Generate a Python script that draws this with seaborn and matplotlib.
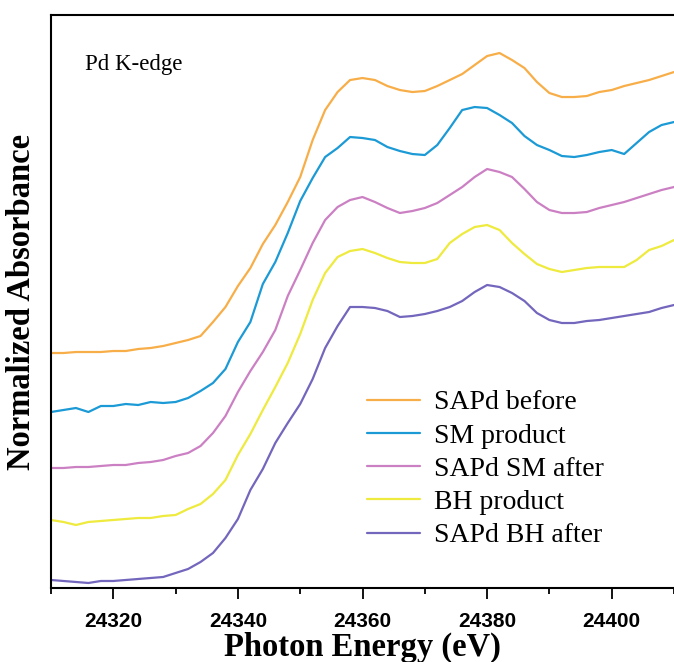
import numpy as np
import pandas as pd
import seaborn as sns
import matplotlib.pyplot as plt

# photon energy grid (eV), 2 eV steps
energy = np.arange(24310, 24411, 2)

# stacked normalized absorbance (a.u.)
sapd_before = [2.35, 2.35, 2.36, 2.36, 2.36, 2.37, 2.37, 2.39, 2.40, 2.42,
               2.45, 2.48, 2.52, 2.66, 2.81, 3.02, 3.20, 3.44, 3.63, 3.86,
               4.11, 4.48, 4.78, 4.96, 5.08, 5.10, 5.08, 5.02, 4.98, 4.96,
               4.97, 5.02, 5.08, 5.14, 5.23, 5.32, 5.35, 5.28, 5.20, 5.06,
               4.95, 4.91, 4.91, 4.92, 4.96, 4.98, 5.02, 5.05, 5.08, 5.12,
               5.16]
sm_product = [1.76, 1.78, 1.80, 1.76, 1.82, 1.82, 1.84, 1.83, 1.86, 1.85,
              1.86, 1.90, 1.97, 2.05, 2.19, 2.46, 2.66, 3.04, 3.26, 3.55,
              3.87, 4.10, 4.31, 4.40, 4.51, 4.50, 4.48, 4.41, 4.37, 4.34,
              4.33, 4.43, 4.60, 4.78, 4.81, 4.80, 4.73, 4.65, 4.52, 4.43,
              4.38, 4.32, 4.31, 4.33, 4.36, 4.38, 4.34, 4.45, 4.56, 4.63,
              4.66]
sapd_sm_after = [1.20, 1.20, 1.21, 1.21, 1.22, 1.23, 1.23, 1.25, 1.26, 1.28,
                 1.32, 1.35, 1.42, 1.55, 1.72, 1.96, 2.17, 2.36, 2.58, 2.92,
                 3.18, 3.45, 3.68, 3.81, 3.88, 3.91, 3.86, 3.80, 3.75, 3.77,
                 3.80, 3.85, 3.93, 4.01, 4.11, 4.19, 4.16, 4.11, 3.99, 3.86,
                 3.78, 3.75, 3.75, 3.76, 3.80, 3.83, 3.86, 3.90, 3.94, 3.98,
                 4.01]
bh_product = [0.68, 0.66, 0.63, 0.66, 0.67, 0.68, 0.69, 0.70, 0.70, 0.72,
              0.73, 0.79, 0.84, 0.94, 1.08, 1.33, 1.54, 1.78, 2.01, 2.25,
              2.54, 2.88, 3.15, 3.31, 3.37, 3.39, 3.35, 3.30, 3.26, 3.25,
              3.25, 3.29, 3.45, 3.54, 3.61, 3.63, 3.58, 3.45, 3.34, 3.24,
              3.19, 3.16, 3.18, 3.20, 3.21, 3.21, 3.21, 3.28, 3.38, 3.42,
              3.48]
sapd_bh_after = [0.08, 0.07, 0.06, 0.05, 0.07, 0.07, 0.08, 0.09, 0.10, 0.11,
                 0.15, 0.19, 0.26, 0.35, 0.50, 0.69, 0.98, 1.19, 1.45, 1.65,
                 1.84, 2.09, 2.40, 2.62, 2.81, 2.81, 2.80, 2.77, 2.71, 2.72,
                 2.74, 2.77, 2.81, 2.87, 2.96, 3.03, 3.01, 2.95, 2.87, 2.75,
                 2.68, 2.65, 2.65, 2.67, 2.68, 2.70, 2.72, 2.74, 2.76, 2.80,
                 2.83]

labels = ["SAPd before", "SM product", "SAPd SM after", "BH product", "SAPd BH after"]
colors = ["#F8AE48", "#1B9AD5", "#CC80C4", "#EEEA3E", "#7366BD"]

series = [sapd_before, sm_product, sapd_sm_after, bh_product, sapd_bh_after]
frames = [pd.DataFrame({"Energy": energy, "Absorbance": s, "Sample": lab})
          for s, lab in zip(series, labels)]
data = pd.concat(frames, ignore_index=True)

sns.set_style("ticks")
plt.rcParams['font.family'] = ['Liberation Serif', 'DejaVu Serif']
plt.rcParams['text.color'] = 'black'
plt.rcParams['axes.labelcolor'] = 'black'
plt.rcParams['xtick.color'] = 'black'

fig = plt.figure(figsize=(6.74, 6.62), dpi=100)
ax = fig.add_axes([0.0757, 0.1118, 0.9243, 0.8655])

sns.lineplot(data=data, x="Energy", y="Absorbance", hue="Sample",
             hue_order=labels, palette=colors, linewidth=1.6, ax=ax)

ax.set_xlim(24310, 24410)
ax.set_ylim(0, 5.73)
ax.set_yticks([])
ax.set_xticks(np.arange(24320, 24401, 20))
ax.set_xticks(np.arange(24310, 24411, 10), minor=True)
ax.tick_params(axis="x", which="major", direction="out", length=8, width=1.3,
               color="black", pad=9)
ax.tick_params(axis="x", which="minor", direction="out", length=4, width=1.3, color="black")
for lab in ax.get_xticklabels():
    lab.set_fontfamily("Liberation Sans")
    lab.set_fontweight("bold")
    lab.set_fontsize(15)

for side in ["left", "bottom", "top"]:
    ax.spines[side].set_color("black")
    ax.spines[side].set_linewidth(1.5)
ax.spines["right"].set_visible(False)

ax.set_xlabel("Photon Energy (eV)", fontsize=23.5, fontweight="bold", labelpad=1)
ax.set_ylabel("Normalized Absorbance", fontsize=23.5, fontweight="bold", labelpad=10)

ax.text(0.055, 0.913, "Pd K-edge", transform=ax.transAxes, fontsize=16.5,
        ha="left", va="center")

ax.legend(loc="upper left", bbox_to_anchor=(0.49, 0.365), frameon=False,
          fontsize=20, handlelength=1.9, handletextpad=0.5, labelspacing=0.28,
          borderaxespad=0)

fig.savefig("out.png", dpi=100)
